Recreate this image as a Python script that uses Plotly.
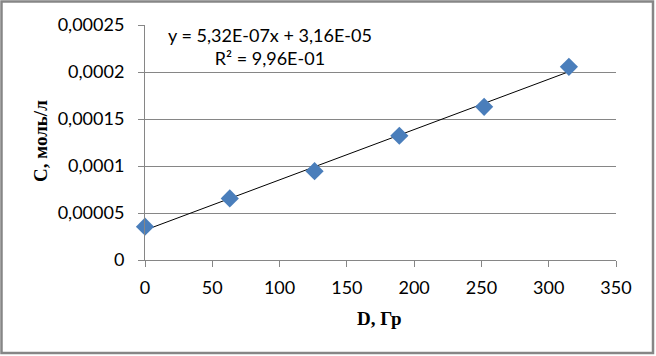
import numpy as np
import plotly.graph_objects as go

# Data
dose = [0, 63, 126, 189, 252, 315]
conc = [3.55e-05, 6.55e-05, 9.45e-05, 1.322e-04, 1.63e-04, 2.055e-04]

x_tick_vals = [0, 50, 100, 150, 200, 250, 300, 350]
x_tick_text = ["0", "50", "100", "150", "200", "250", "300", "350"]
y_tick_vals = [0, 0.00005, 0.0001, 0.00015, 0.0002, 0.00025]
y_tick_text = ["0", "0,00005", "0,0001", "0,00015", "0,0002", "0,00025"]

eq_text = "y = 5,32E-07x + 3,16E-05<br>R² = 9,96E-01"
x_title = "D, Гр"
y_title = "С, моль/л"

# Linear trendline
slope, intercept = np.polyfit(dose, conc, 1)
tx = [min(dose), max(dose)]
ty = [slope * v + intercept for v in tx]

W, H = 656, 356
L, R, T, B = 145, 40, 25, 96
pw, ph = W - L - R, H - T - B

def px(xp):
    return (xp - L) / pw

def py(yp):
    return (T + ph - yp) / ph

fig = go.Figure()
fig.add_trace(go.Scatter(x=tx, y=ty, mode="lines",
                         line=dict(color="black", width=1), hoverinfo="skip"))
fig.add_trace(go.Scatter(x=dose, y=conc, mode="markers", cliponaxis=False,
                         marker=dict(symbol="diamond", size=14, color="#4A7EBB",
                                     line=dict(width=0))))

axis_font = dict(family="Lato, Open Sans, sans-serif", size=18, color="black")

fig.update_layout(
    width=W, height=H,
    margin=dict(l=L, r=R, t=T, b=B),
    paper_bgcolor="white", plot_bgcolor="white",
    showlegend=False,
    xaxis=dict(range=[0, 350], tickvals=x_tick_vals, ticktext=x_tick_text,
               showgrid=False, zeroline=False, showline=True, linecolor="#868686",
               linewidth=1, ticks="outside", ticklen=6, tickcolor="#868686",
               tickfont=axis_font, ticklabelstandoff=5),
    yaxis=dict(range=[0, 0.00025], tickvals=y_tick_vals, ticktext=y_tick_text,
               showgrid=True, gridcolor="#868686", gridwidth=1, zeroline=False,
               showline=True, linecolor="#868686", linewidth=1,
               ticks="outside", ticklen=6, tickcolor="#868686",
               tickfont=axis_font, ticklabelstandoff=10),
    shapes=[dict(type="rect", xref="paper", yref="paper",
                 x0=px(1.5), x1=px(653), y0=py(353), y1=py(1.5),
                 line=dict(color="#868686", width=2.5), fillcolor="rgba(0,0,0,0)",
                 layer="below")],
    annotations=[
        dict(text=eq_text, xref="paper", yref="paper", x=px(270), y=py(46),
             xanchor="center", yanchor="middle", align="center", showarrow=False,
             font=dict(family="Lato, Open Sans, sans-serif", size=18, color="black")),
        dict(text="<b>" + x_title + "</b>", xref="paper", yref="paper",
             x=px(379), y=py(318), xanchor="center", yanchor="middle",
             showarrow=False,
             font=dict(family="Liberation Serif, Times New Roman, serif", size=19,
                       color="black")),
        dict(text="<b>" + y_title + "</b>", xref="paper", yref="paper",
             x=px(40), y=py(141), xanchor="center", yanchor="middle",
             textangle=-90, showarrow=False,
             font=dict(family="Liberation Serif, Times New Roman, serif", size=19,
                       color="black")),
    ],
)

fig.write_html("out.html", config={"displayModeBar": False},
               post_script="document.body.style.margin='0';document.body.style.overflow='hidden';")
